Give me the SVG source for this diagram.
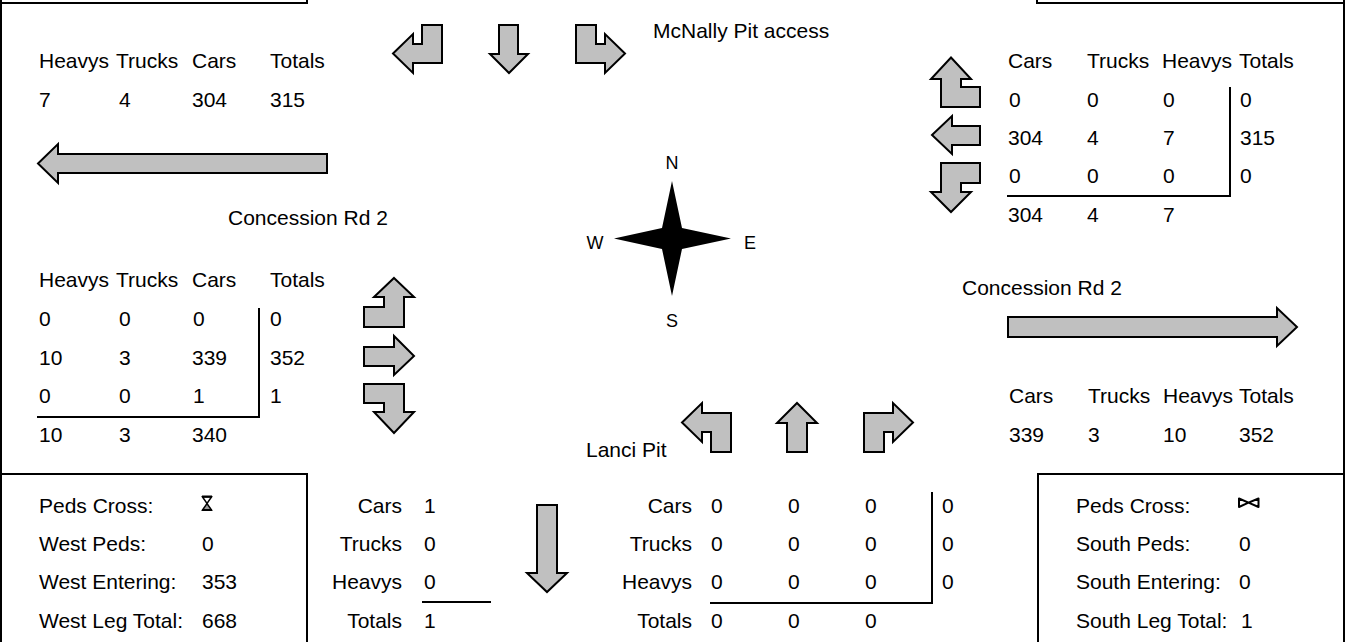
<svg xmlns="http://www.w3.org/2000/svg" width="1352" height="642" viewBox="0 0 1352 642">
<style>
text{font-family:"Liberation Sans",Arial,sans-serif;font-size:21px;fill:#000}
.c{font-size:18px;text-anchor:middle}
.e{text-anchor:end}
.fr{fill:none;stroke:#000;stroke-width:2}
.bx{fill:#fff;stroke:#000;stroke-width:2}
.ar{fill:#c0c0c0;stroke:#000;stroke-width:2;stroke-linejoin:miter}
.tl{stroke:#000;stroke-width:2;fill:none}
</style>
<rect width="1352" height="642" fill="#fff"/>
<g id="frame">
<rect class="bx" x="1" y="-20" width="306" height="23"/>
<rect class="bx" x="1037" y="-20" width="307" height="23"/>
<line class="fr" x1="1" y1="3" x2="1" y2="474"/>
<line class="fr" x1="1344" y1="3" x2="1344" y2="474"/>
</g>
<g id="connectors">
<polygon class="ar" points="38,163.5 58,144 58,154 327,154 327,173 58,173 58,183"/>
<polygon class="ar" points="393,53.5 413,34 413,44 422,44 422,25 442,25 442,63 413,63 413,73"/>
<polygon class="ar" points="499,25 518,25 518,54 528,54 509,73 490,54 499,54"/>
<polygon class="ar" points="576,25 596,25 596,44 605,44 605,34 625,53.5 605,73 605,63 576,63"/>
<polygon class="ar" points="951,57.5 971,79 961,79 961,87 980,87 980,107 941,107 941,79 931,79"/>
<polygon class="ar" points="932,135 952,116 952,126 980,126 980,145 952,145 952,154"/>
<polygon class="ar" points="941,163 980,163 980,183 961,183 961,192 971,192 951,212 931,192 941,192"/>
<polygon class="ar" points="394,278 414,297 404,297 404,327 364,327 364,307 384,307 384,297 374,297"/>
<polygon class="ar" points="364,347 394,347 394,336 414,356 394,375 394,366 364,366"/>
<polygon class="ar" points="364,384 404,384 404,412 414,412 394,433 374,412 384,412 384,403 364,403"/>
<polygon class="ar" points="1008,317 1277,317 1277,308 1297,327 1277,346 1277,337 1008,337"/>
<polygon class="ar" points="682,422.5 702,403 702,413 731,413 731,452 711,452 711,432 702,432 702,442"/>
<polygon class="ar" points="787,452 787,423 777,423 797,403 817,423 807,423 807,452"/>
<polygon class="ar" points="864,452 864,413 893,413 893,403 913,422.5 893,442 893,432 884,432 884,452"/>
<polygon class="ar" points="537,505 557,505 557,573 567,573 547,592 527,573 537,573"/>
</g>
<g id="north-label">
<text x="653" y="38">McNally Pit access</text>
</g>
<g id="west-out">
<text x="39" y="68">Heavys</text><text x="116" y="68">Trucks</text><text x="192" y="68">Cars</text><text x="270" y="68">Totals</text>
<text x="39" y="107">7</text><text x="119" y="107">4</text><text x="192" y="107">304</text><text x="270" y="107">315</text>
<text x="228" y="225">Concession Rd 2</text>
</g>
<g id="east-in">
<text x="1008" y="68">Cars</text><text x="1087" y="68">Trucks</text><text x="1162" y="68">Heavys</text><text x="1239" y="68">Totals</text>
<text x="1009" y="107">0</text><text x="1087" y="107">0</text><text x="1163" y="107">0</text><text x="1240" y="107">0</text>
<text x="1008" y="145">304</text><text x="1087" y="145">4</text><text x="1163" y="145">7</text><text x="1240" y="145">315</text>
<text x="1009" y="183">0</text><text x="1087" y="183">0</text><text x="1163" y="183">0</text><text x="1240" y="183">0</text>
<text x="1008" y="222">304</text><text x="1087" y="222">4</text><text x="1163" y="222">7</text>
<polyline class="tl" points="1007,196 1230,196 1230,87"/>
</g>
<g id="compass">
<polygon points="672,181 682,228 731,238.5 682,249 672,296 662,249 614,238.5 662,228" fill="#000"/>
<text class="c" x="672" y="169">N</text>
<text class="c" x="595" y="249">W</text>
<text class="c" x="750" y="249">E</text>
<text class="c" x="672" y="327">S</text>
</g>
<g id="west-in">
<text x="39" y="287">Heavys</text><text x="116" y="287">Trucks</text><text x="192" y="287">Cars</text><text x="270" y="287">Totals</text>
<text x="39" y="326">0</text><text x="119" y="326">0</text><text x="193" y="326">0</text><text x="270" y="326">0</text>
<text x="39" y="365">10</text><text x="119" y="365">3</text><text x="192" y="365">339</text><text x="270" y="365">352</text>
<text x="39" y="403">0</text><text x="119" y="403">0</text><text x="193" y="403">1</text><text x="270" y="403">1</text>
<text x="39" y="442">10</text><text x="119" y="442">3</text><text x="192" y="442">340</text>
<polyline class="tl" points="37,417 259,417 259,308"/>
</g>
<g id="east-out">
<text x="962" y="295">Concession Rd 2</text>
<text x="1009" y="403">Cars</text><text x="1088" y="403">Trucks</text><text x="1163" y="403">Heavys</text><text x="1239" y="403">Totals</text>
<text x="1009" y="442">339</text><text x="1088" y="442">3</text><text x="1163" y="442">10</text><text x="1239" y="442">352</text>
</g>
<g id="south-label">
<text x="586" y="457">Lanci Pit</text>
</g>
<g id="west-summary">
<rect class="bx" x="1" y="474" width="306" height="180"/>
<text x="39" y="513">Peds Cross:</text>
<text x="39" y="551">West Peds:</text><text x="202" y="551">0</text>
<text x="39" y="589">West Entering:</text><text x="202" y="589">353</text>
<text x="39" y="628">West Leg Total:</text><text x="202" y="628">668</text>
<path d="M202.5,497 H211.5 L207,503.5 Z" fill="#fff" stroke="#000" stroke-width="1.5"/>
<path d="M202.5,510 H211.5 L207,503.5 Z" fill="#999" stroke="#000" stroke-width="1.5"/>
<line x1="202" y1="496.5" x2="212" y2="496.5" stroke="#000" stroke-width="2"/>
<line x1="202" y1="510" x2="212" y2="510" stroke="#000" stroke-width="2"/>
</g>
<g id="south-out">
<text class="e" x="402" y="513">Cars</text><text x="424" y="513">1</text>
<text class="e" x="402" y="551">Trucks</text><text x="424" y="551">0</text>
<text class="e" x="402" y="589">Heavys</text><text x="424" y="589">0</text>
<text class="e" x="402" y="628">Totals</text><text x="424" y="628">1</text>
<line class="tl" x1="422" y1="602" x2="491" y2="602"/>
</g>
<g id="south-in">
<text class="e" x="692" y="513">Cars</text><text x="711" y="513">0</text><text x="788" y="513">0</text><text x="865" y="513">0</text><text x="942" y="513">0</text>
<text class="e" x="692" y="551">Trucks</text><text x="711" y="551">0</text><text x="788" y="551">0</text><text x="865" y="551">0</text><text x="942" y="551">0</text>
<text class="e" x="692" y="589">Heavys</text><text x="711" y="589">0</text><text x="788" y="589">0</text><text x="865" y="589">0</text><text x="942" y="589">0</text>
<text class="e" x="692" y="628">Totals</text><text x="711" y="628">0</text><text x="788" y="628">0</text><text x="865" y="628">0</text>
<polyline class="tl" points="710,603 932,603 932,492"/>
</g>
<g id="south-summary">
<rect class="bx" x="1038" y="474" width="306" height="180"/>
<text x="1076" y="513">Peds Cross:</text>
<text x="1076" y="551">South Peds:</text><text x="1239" y="551">0</text>
<text x="1076" y="589">South Entering:</text><text x="1239" y="589">0</text>
<text x="1076" y="628">South Leg Total:</text><text x="1241" y="628">1</text>
<path d="M1239,498.5 V507 L1248.5,502.7 Z M1258.5,498.5 V507 L1248.5,502.7 Z" fill="#fff" stroke="#000" stroke-width="2" stroke-linejoin="round"/>
</g>
</svg>
